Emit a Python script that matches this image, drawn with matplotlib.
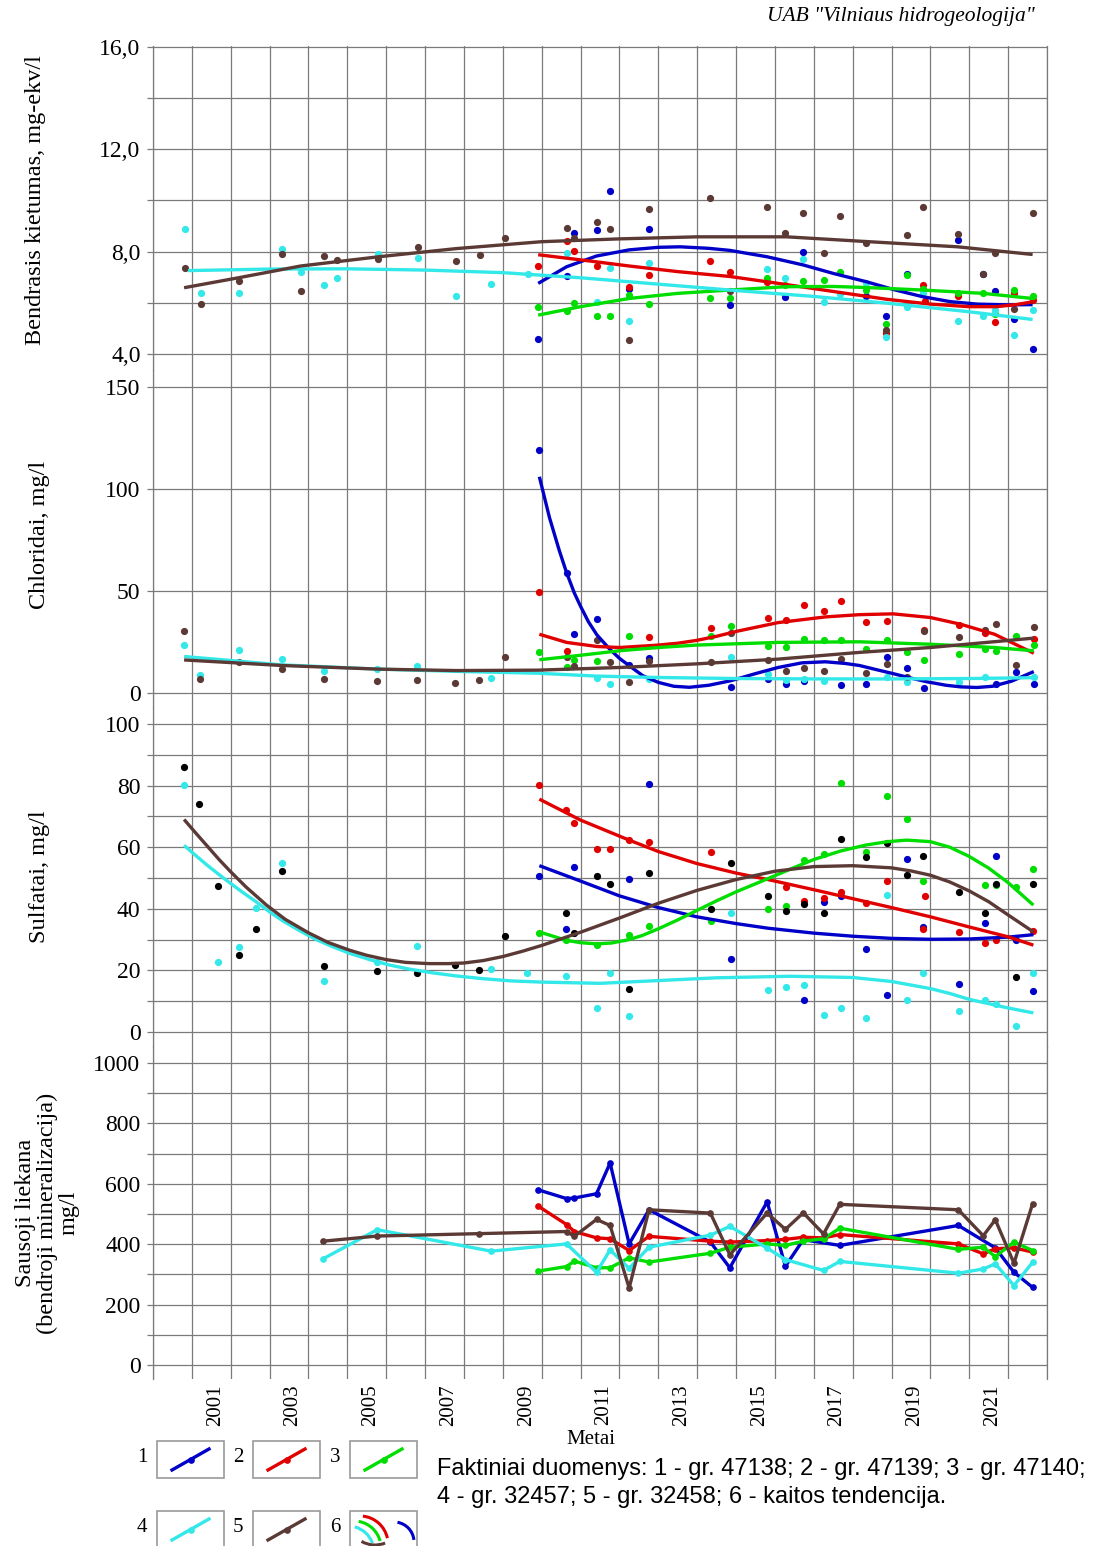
import numpy as np
import matplotlib.pyplot as plt
from matplotlib.patches import Arc, Rectangle

# ---- data (x = decimal year) ----
# Bendrasis kietumas, mg-ekv/l
hard_x_1 = [2009.91, 2010.64, 2010.84, 2011.41, 2011.76, 2012.25, 2012.76, 2014.84, 2016.27, 2016.73, 2018.34,
            2018.87, 2019.39, 2020.72, 2021.36, 2021.67, 2022.15, 2022.63]
hard_y_1 = [4.60, 7.05, 8.73, 8.85, 10.38, 6.53, 8.87, 5.93, 6.24, 7.99, 6.28, 5.48, 7.13, 8.46, 7.13, 6.47, 5.35, 4.21]
hard_x_2 = [2009.91, 2010.64, 2010.84, 2011.41, 2012.25, 2012.76, 2014.34, 2014.84, 2015.80, 2018.87, 2019.80,
            2019.85, 2020.72, 2021.67, 2022.15, 2022.63]
hard_y_2 = [7.45, 8.43, 8.04, 7.45, 6.63, 7.09, 7.63, 7.22, 6.80, 4.83, 6.68, 6.08, 6.27, 5.25, 6.37, 6.10]
hard_x_3 = [2009.91, 2010.64, 2010.84, 2011.41, 2011.76, 2012.25, 2012.76, 2014.34, 2014.84, 2015.80, 2016.27,
            2016.73, 2017.25, 2017.67, 2018.34, 2018.87, 2019.39, 2019.80, 2020.72, 2021.36, 2021.67, 2022.15, 2022.63]
hard_y_3 = [5.85, 5.69, 5.98, 5.50, 5.50, 6.30, 5.95, 6.20, 6.20, 6.98, 6.70, 6.84, 6.89, 7.20, 6.50, 5.17, 7.08,
            6.53, 6.39, 6.37, 5.56, 6.50, 6.27]
hard_x_4 = [2000.82, 2001.23, 2002.20, 2003.32, 2003.80, 2004.40, 2004.74, 2005.79, 2006.81, 2007.80, 2008.70,
            2009.65, 2010.64, 2011.41, 2011.76, 2012.25, 2012.76, 2015.80, 2016.27, 2016.73, 2017.25, 2017.67,
            2018.34, 2018.87, 2019.39, 2019.80, 2020.72, 2021.36, 2021.67, 2022.15, 2022.63]
hard_y_4 = [8.87, 6.37, 6.37, 8.12, 7.20, 6.70, 6.97, 7.91, 7.74, 6.27, 6.72, 7.14, 7.93, 6.04, 7.37, 5.29, 7.54,
            7.33, 6.98, 7.70, 6.02, 6.34, 6.79, 4.65, 5.82, 6.37, 5.29, 5.50, 5.72, 4.73, 5.72]
hard_x_5 = [2000.82, 2001.23, 2002.20, 2003.32, 2003.80, 2004.40, 2004.74, 2005.79, 2006.81, 2007.80, 2008.40,
            2009.06, 2010.64, 2010.84, 2011.41, 2011.76, 2012.25, 2012.76, 2014.34, 2014.84, 2015.80, 2016.27,
            2016.73, 2017.25, 2017.67, 2018.34, 2018.87, 2019.39, 2019.80, 2020.72, 2021.36, 2021.67, 2022.15, 2022.63]
hard_y_5 = [7.35, 5.95, 6.86, 7.91, 6.45, 7.83, 7.69, 7.71, 8.18, 7.63, 7.87, 8.55, 8.94, 8.52, 9.16, 8.87, 4.55,
            9.65, 10.08, 6.47, 9.73, 8.72, 9.52, 7.96, 9.39, 8.33, 4.95, 8.64, 9.73, 8.69, 7.13, 7.96, 5.75, 9.52]

hard_tx_1 = [2009.91, 2010.64, 2011.41, 2012.25, 2013.0, 2013.56, 2014.3, 2014.84, 2015.8, 2016.73, 2017.5, 2018.34,
             2019.1, 2019.8, 2020.5, 2021.2, 2022.0, 2022.63]
hard_ty_1 = [6.76, 7.41, 7.83, 8.07, 8.17, 8.19, 8.13, 8.05, 7.80, 7.48, 7.15, 6.83, 6.50, 6.24, 6.05, 5.95, 5.92, 5.93]
hard_tx_2 = [2009.91, 2011.0, 2012.25, 2013.5, 2014.84, 2016.0, 2017.25, 2018.87, 2020.0, 2021.0, 2021.7, 2022.2, 2022.63]
hard_ty_2 = [7.88, 7.68, 7.44, 7.22, 7.03, 6.78, 6.50, 6.14, 5.95, 5.85, 5.85, 5.93, 6.04]
hard_tx_3 = [2009.91, 2011.0, 2012.25, 2013.5, 2014.84, 2016.27, 2017.5, 2018.34, 2019.8, 2021.36, 2022.63]
hard_ty_3 = [5.52, 5.85, 6.17, 6.37, 6.50, 6.63, 6.64, 6.60, 6.50, 6.37, 6.17]
hard_tx_4 = [2000.9, 2003.0, 2005.0, 2007.0, 2009.0, 2011.0, 2013.0, 2015.0, 2017.0, 2019.0, 2021.0, 2022.63]
hard_ty_4 = [7.26, 7.32, 7.33, 7.28, 7.18, 6.98, 6.73, 6.48, 6.25, 5.97, 5.65, 5.35]
hard_tx_5 = [2000.8, 2002.2, 2003.8, 2005.8, 2007.8, 2010.0, 2012.0, 2014.0, 2016.3, 2018.3, 2020.7, 2022.63]
hard_ty_5 = [6.59, 6.98, 7.44, 7.80, 8.12, 8.39, 8.50, 8.58, 8.58, 8.40, 8.19, 7.89]

# Chloridai, mg/l
chl_x_1 = [2009.94, 2010.64, 2010.84, 2011.42, 2012.25, 2012.77, 2014.86, 2015.82, 2016.28, 2016.74, 2017.69,
           2018.34, 2018.89, 2019.39, 2019.83, 2021.70, 2022.20, 2022.66]
chl_y_1 = [119.2, 58.6, 28.8, 36.5, 13.7, 17.1, 3.1, 6.8, 4.4, 5.7, 4.1, 4.2, 17.8, 12.2, 2.3, 4.4, 10.4, 4.4]
chl_x_2 = [2009.94, 2010.64, 2012.77, 2014.36, 2015.82, 2016.28, 2016.74, 2017.26, 2017.69, 2018.34, 2018.89,
           2019.83, 2020.74, 2021.41, 2022.66]
chl_y_2 = [49.5, 20.7, 27.5, 31.8, 37.0, 35.8, 43.2, 40.2, 45.1, 34.9, 35.5, 30.8, 33.4, 29.6, 26.4]
chl_x_3 = [2009.94, 2010.64, 2010.84, 2011.42, 2012.25, 2014.36, 2014.86, 2015.82, 2016.28, 2016.74, 2017.26,
           2017.69, 2018.34, 2018.89, 2019.39, 2019.83, 2020.74, 2021.41, 2021.70, 2022.20, 2022.66]
chl_y_3 = [19.9, 12.9, 16.2, 15.5, 27.7, 28.0, 32.6, 23.1, 22.6, 26.7, 25.9, 26.1, 21.5, 25.9, 19.9, 16.3, 19.1,
           21.5, 20.7, 28.0, 23.5]
chl_x_4 = [2000.80, 2001.21, 2002.20, 2003.31, 2004.40, 2005.77, 2006.78, 2008.70, 2011.42, 2011.75, 2012.77,
           2014.86, 2015.82, 2016.28, 2016.74, 2017.26, 2018.89, 2019.39, 2020.74, 2021.41, 2022.66]
chl_y_4 = [23.5, 8.9, 21.1, 16.7, 10.6, 11.7, 13.0, 7.3, 7.5, 4.4, 6.8, 17.8, 9.3, 6.5, 7.0, 5.7, 8.0, 5.2, 5.2,
           8.0, 8.0]
chl_x_5 = [2000.80, 2001.21, 2002.20, 2003.31, 2004.40, 2005.77, 2006.78, 2007.78, 2008.39, 2009.05, 2010.64,
           2010.84, 2011.42, 2011.75, 2012.25, 2012.77, 2014.36, 2014.86, 2015.82, 2016.28, 2016.74, 2017.26,
           2017.69, 2018.34, 2018.89, 2019.39, 2019.83, 2020.74, 2021.41, 2021.70, 2022.20, 2022.66]
chl_y_5 = [30.5, 7.0, 15.1, 12.0, 6.8, 6.0, 6.2, 4.9, 6.5, 17.7, 17.8, 13.2, 26.1, 15.0, 5.5, 15.5, 15.0, 29.6,
           16.1, 10.9, 12.2, 10.6, 16.6, 9.8, 14.2, 8.0, 30.5, 27.5, 30.8, 33.7, 13.8, 32.4]

chl_tx_1 = [2009.94, 2010.2, 2010.45, 2010.64, 2010.84, 2011.0, 2011.2, 2011.42, 2011.75, 2012.0, 2012.25, 2012.6,
            2013.0, 2013.4, 2013.8, 2014.3, 2014.86, 2015.5, 2016.08, 2016.7, 2017.3, 2017.8, 2018.17, 2018.6,
            2019.04, 2019.5, 2019.91, 2020.4, 2020.78, 2021.2, 2021.6, 2022.09, 2022.66]
chl_ty_1 = [106, 86, 70, 59, 49, 42.5, 35, 28.5, 21.5, 17, 13.4, 8.5, 5.2, 3.3, 2.8, 3.8, 6.0, 9.5, 12.5, 14.8,
            15.3, 14.5, 13.5, 11.5, 9.5, 7.3, 5.5, 3.8, 3.0, 2.7, 3.3, 5.8, 10.5]
chl_tx_2 = [2009.94, 2010.64, 2011.42, 2012.0, 2012.94, 2013.5, 2013.99, 2014.5, 2015.03, 2016.08, 2017.3, 2018.17,
            2019.04, 2020.0, 2020.78, 2021.65, 2022.66]
chl_ty_2 = [28.8, 24.8, 22.8, 22.3, 23.4, 24.4, 25.8, 27.8, 30.3, 34.5, 37.3, 38.4, 38.8, 37.0, 33.7, 28.8, 19.5]
chl_tx_3 = [2009.94, 2011.0, 2012.0, 2013.0, 2013.99, 2016.08, 2018.17, 2020.0, 2021.65, 2022.66]
chl_ty_3 = [16.3, 18.5, 20.7, 22.3, 23.5, 24.8, 25.1, 23.9, 22.3, 20.7]
chl_tx_4 = [2000.8, 2003.3, 2005.8, 2007.8, 2009.9, 2011.4, 2013.0, 2015.0, 2017.0, 2019.0, 2021.0, 2022.66]
chl_ty_4 = [17.9, 13.8, 11.7, 10.6, 9.7, 8.3, 7.6, 7.1, 6.9, 6.9, 7.1, 7.5]
chl_tx_5 = [2000.8, 2003.3, 2005.8, 2007.8, 2009.9, 2012.0, 2014.0, 2016.08, 2018.17, 2020.0, 2022.66]
chl_ty_5 = [16.2, 13.5, 11.7, 11.0, 11.2, 12.5, 14.3, 16.6, 19.9, 22.3, 26.9]

# Sulfatai, mg/l
sul_x_1 = [2009.94, 2010.62, 2010.84, 2012.25, 2012.77, 2014.86, 2016.74, 2017.25, 2017.69, 2018.34, 2018.89,
           2019.39, 2019.80, 2020.74, 2021.41, 2021.69, 2022.19, 2022.65]
sul_y_1 = [50.6, 33.6, 53.6, 49.8, 80.5, 23.6, 10.5, 42.3, 44.1, 27.1, 11.9, 56.2, 34.1, 15.5, 35.5, 57.1, 29.8, 13.2]
sul_x_2 = [2009.94, 2010.62, 2010.84, 2011.42, 2011.75, 2012.25, 2012.77, 2014.35, 2016.28, 2016.74, 2017.25,
           2017.69, 2018.34, 2018.89, 2019.80, 2019.85, 2020.74, 2021.41, 2021.69, 2022.65]
sul_y_2 = [80.3, 72.0, 68.0, 59.4, 59.4, 62.3, 61.8, 58.4, 47.1, 42.6, 43.6, 45.5, 42.0, 49.0, 33.6, 44.3, 32.5,
           28.9, 30.0, 32.8]
sul_x_3 = [2009.94, 2010.62, 2011.42, 2012.25, 2012.77, 2014.35, 2015.82, 2016.28, 2016.74, 2017.25, 2017.69,
           2018.34, 2018.89, 2019.39, 2019.80, 2021.41, 2021.69, 2022.19, 2022.65]
sul_y_3 = [32.0, 29.8, 28.4, 31.6, 34.5, 35.9, 39.8, 41.0, 55.8, 57.7, 80.7, 58.5, 76.6, 69.0, 49.1, 47.8, 47.7,
           47.1, 52.9]
sul_x_4 = [2000.80, 2001.66, 2002.20, 2002.64, 2003.31, 2004.40, 2005.77, 2006.78, 2008.70, 2009.61, 2010.62,
           2011.42, 2011.75, 2012.25, 2014.86, 2015.82, 2016.28, 2016.74, 2017.25, 2017.69, 2018.34, 2018.89,
           2019.39, 2019.80, 2020.74, 2021.41, 2021.69, 2022.19, 2022.65]
sul_y_4 = [80.1, 22.8, 27.6, 40.4, 54.9, 16.6, 22.8, 28.0, 20.3, 19.3, 18.3, 7.9, 19.0, 5.2, 38.5, 13.5, 14.6, 15.4,
           5.6, 7.9, 4.4, 44.4, 10.5, 19.0, 6.8, 10.3, 9.2, 1.8, 19.0]
sul_x_5 = [2000.80, 2001.19, 2001.66, 2002.20, 2002.64, 2003.31, 2004.40, 2005.77, 2006.78, 2007.78, 2008.39,
           2009.05, 2010.62, 2010.84, 2011.42, 2011.75, 2012.25, 2012.77, 2014.35, 2014.86, 2015.82, 2016.28,
           2016.74, 2017.25, 2017.69, 2018.34, 2018.89, 2019.39, 2019.80, 2020.74, 2021.41, 2021.69, 2022.19, 2022.65]
sul_y_5 = [86.1, 73.9, 47.5, 25.1, 33.4, 52.4, 21.5, 19.8, 19.1, 21.7, 20.0, 31.2, 38.7, 32.3, 50.8, 48.2, 14.1,
           51.5, 39.8, 54.9, 44.3, 39.3, 41.7, 38.7, 62.8, 56.9, 61.3, 51.0, 57.2, 45.3, 38.5, 48.2, 17.9, 48.2]

sul_tx_1 = [2009.94, 2011.0, 2012.0, 2013.0, 2013.99, 2015.0, 2015.82, 2017.0, 2018.0, 2019.0, 2020.0, 2021.0,
            2022.0, 2022.65]
sul_ty_1 = [54.0, 49.0, 44.2, 40.4, 37.4, 35.2, 33.7, 32.1, 31.1, 30.4, 30.1, 30.2, 30.8, 31.6]
sul_tx_2 = [2009.94, 2011.0, 2012.25, 2013.0, 2013.99, 2015.0, 2015.82, 2017.0, 2018.0, 2019.0, 2020.0, 2021.0,
            2022.0, 2022.65]
sul_ty_2 = [75.6, 68.8, 62.3, 58.6, 54.7, 51.6, 49.5, 46.2, 43.3, 40.4, 37.4, 34.1, 30.9, 28.2]
sul_tx_3 = [2009.94, 2010.62, 2011.0, 2011.42, 2011.8, 2012.25, 2012.6, 2013.0, 2013.5, 2014.0, 2014.5, 2015.0,
            2015.82, 2016.4, 2017.0, 2017.7, 2018.34, 2018.9, 2019.39, 2020.0, 2020.5, 2021.0, 2021.5, 2022.0, 2022.65]
sul_ty_3 = [32.5, 29.8, 29.0, 28.6, 28.9, 30.0, 31.4, 33.5, 36.4, 39.5, 42.6, 45.5, 49.8, 52.9, 56.0, 58.8, 60.7,
            61.8, 62.3, 61.8, 60.0, 57.0, 53.2, 48.5, 41.2]
sul_tx_4 = [2000.8, 2001.1, 2001.4, 2001.7, 2002.0, 2002.3, 2002.64, 2003.0, 2003.35, 2003.8, 2004.2, 2004.6, 2005.07,
            2005.6, 2006.1, 2006.6, 2007.2, 2007.8, 2008.5, 2009.2, 2010.0, 2011.5, 2013.0, 2014.5, 2016.4, 2018.0,
            2019.0, 2020.0, 2020.5, 2021.0, 2021.5, 2022.0, 2022.65]
sul_ty_4 = [60.6, 57.3, 54.1, 51.1, 48.2, 45.4, 42.4, 39.0, 36.0, 32.7, 30.0, 27.8, 25.5, 23.4, 21.7, 20.4, 19.2,
            18.2, 17.3, 16.6, 16.2, 15.8, 16.7, 17.6, 18.1, 17.7, 16.4, 14.1, 12.5, 10.6, 9.2, 7.8, 6.2]
sul_tx_5 = [2000.8, 2001.1, 2001.4, 2001.7, 2002.0, 2002.4, 2002.92, 2003.4, 2004.0, 2004.5, 2005.07, 2005.5, 2006.0,
            2006.5, 2007.1, 2007.6, 2008.0, 2008.5, 2009.0, 2009.5, 2010.0, 2011.0, 2012.0, 2013.0, 2014.0, 2015.0,
            2016.0, 2017.0, 2018.0, 2019.0, 2019.5, 2020.0, 2020.5, 2021.0, 2021.5, 2022.0, 2022.65]
sul_ty_5 = [69.0, 64.6, 60.3, 56.0, 52.0, 47.0, 41.2, 36.6, 32.2, 29.1, 26.5, 24.9, 23.5, 22.6, 22.2, 22.2, 22.4,
            23.2, 24.5, 26.2, 28.1, 32.4, 37.0, 41.8, 46.0, 49.5, 52.2, 53.7, 54.0, 53.3, 52.3, 50.9, 48.7, 45.8,
            42.3, 38.0, 32.5]

# Sausoji liekana, mg/l
dry_x_1 = [2009.91, 2010.64, 2010.84, 2011.41, 2011.76, 2012.25, 2012.76, 2014.34, 2014.84, 2015.80, 2016.27,
           2016.73, 2017.67, 2020.72, 2021.67, 2022.15, 2022.63]
dry_y_1 = [580, 551, 553, 567, 669, 401, 514, 407, 322, 540, 327, 415, 396, 462, 388, 307, 257]
dry_x_2 = [2009.91, 2010.64, 2010.84, 2011.41, 2011.76, 2012.25, 2012.76, 2014.34, 2014.84, 2015.80, 2016.27,
           2016.73, 2017.25, 2017.67, 2020.72, 2021.36, 2021.67, 2022.15, 2022.63]
dry_y_2 = [526, 465, 442, 421, 418, 379, 426, 410, 407, 412, 416, 423, 421, 432, 401, 368, 385, 388, 374]
dry_x_3 = [2009.91, 2010.64, 2010.84, 2011.41, 2011.76, 2012.25, 2012.76, 2014.34, 2014.84, 2015.80, 2016.27,
           2016.73, 2017.25, 2017.67, 2020.72, 2021.36, 2021.67, 2022.15, 2022.63]
dry_y_3 = [311, 326, 344, 322, 322, 355, 341, 370, 390, 401, 396, 410, 418, 453, 383, 390, 359, 407, 379]
dry_x_4 = [2004.38, 2005.77, 2008.70, 2010.64, 2011.41, 2011.76, 2012.25, 2012.76, 2014.34, 2014.84, 2015.80,
           2016.27, 2017.25, 2017.67, 2020.72, 2021.36, 2021.67, 2022.15, 2022.63]
dry_y_4 = [352, 448, 377, 401, 307, 381, 320, 390, 430, 459, 387, 349, 313, 343, 304, 318, 335, 263, 340]
dry_x_5 = [2004.38, 2005.77, 2008.39, 2010.64, 2010.84, 2011.41, 2011.76, 2012.25, 2012.76, 2014.34, 2014.84,
           2015.80, 2016.27, 2016.73, 2017.25, 2017.67, 2020.72, 2021.36, 2021.67, 2022.15, 2022.63]
dry_y_5 = [410, 427, 435, 442, 426, 482, 462, 255, 514, 503, 365, 503, 449, 504, 434, 532, 514, 428, 481, 337, 534]

year_labels = ["2001", "2003", "2005", "2007", "2009", "2011", "2013", "2015", "2017", "2019", "2021"]
legend_text = ("Faktiniai duomenys: 1 - gr. 47138; 2 - gr. 47139; 3 - gr. 47140;\n"
               "4 - gr. 32457; 5 - gr. 32458; 6 - kaitos tendencija.")

BLUE, RED, GREEN, CYAN, BROWN = "#0000C8", "#E00000", "#00DD00", "#33E8E8", "#5B3A36"
colors = [BLUE, RED, GREEN, CYAN, BROWN]
GRID = "#7a7a7a"
SERIF = "Liberation Serif"
SANS = "Liberation Sans"

W, H = 1103, 1546
fig = plt.figure(figsize=(W / 100, H / 100), dpi=100)
X0, X1 = 153, 1047


def panel(top, bot, v_hi, p_hi, v_lo, p_lo, major, minor, fmt):
    scale = (v_hi - v_lo) / (p_lo - p_hi)
    ylim = (v_lo - (bot - p_lo) * scale, v_hi + (p_hi - top) * scale)
    ax = fig.add_axes([X0 / W, 1 - bot / H, (X1 - X0) / W, (bot - top) / H])
    ax.set_xlim(2000, 2023)
    ax.set_ylim(*ylim)
    ax.set_xticks(range(2000, 2024))
    ax.set_yticks(major)
    ax.set_yticks(minor, minor=True)
    ax.set_yticklabels([fmt(v) for v in major], fontsize=17, family=SERIF)
    ax.tick_params(axis="y", which="both", length=4, color=GRID, width=0.9, pad=5)
    ax.tick_params(axis="x", which="both", length=0, labelbottom=False)
    ax.grid(axis="y", which="both", color=GRID, lw=0.9)
    ax.grid(axis="x", which="major", color=GRID, lw=0.9)
    for s in ("top", "bottom"):
        ax.spines[s].set_visible(False)
    for s in ("left", "right"):
        ax.spines[s].set_color(GRID)
        ax.spines[s].set_linewidth(0.9)
    ax.set_axisbelow(True)
    return ax


def scatter_trend(ax, xs, ys, txs, tys, dot_colors):
    for x, y, c in zip(xs, ys, dot_colors):
        ax.plot(x, y, "o", ms=5.2, color=c, mec="none", zorder=3)
    for tx, ty, c in zip(txs, tys, colors):
        ax.plot(tx, ty, "-", lw=2.4, color=c, zorder=4, solid_capstyle="butt", solid_joinstyle="round")


ax1 = panel(46, 370, 16, 47, 4, 354, [4, 8, 12, 16], [6, 10, 14], lambda v: f"{v:.1f}".replace(".", ","))
scatter_trend(ax1, [hard_x_1, hard_x_2, hard_x_3, hard_x_4, hard_x_5],
              [hard_y_1, hard_y_2, hard_y_3, hard_y_4, hard_y_5],
              [hard_tx_1, hard_tx_2, hard_tx_3, hard_tx_4, hard_tx_5],
              [hard_ty_1, hard_ty_2, hard_ty_3, hard_ty_4, hard_ty_5], colors)

ax2 = panel(370, 708, 150, 387, 0, 693, [0, 50, 100, 150], [], lambda v: f"{v:d}")
scatter_trend(ax2, [chl_x_1, chl_x_2, chl_x_3, chl_x_4, chl_x_5],
              [chl_y_1, chl_y_2, chl_y_3, chl_y_4, chl_y_5],
              [chl_tx_1, chl_tx_2, chl_tx_3, chl_tx_4, chl_tx_5],
              [chl_ty_1, chl_ty_2, chl_ty_3, chl_ty_4, chl_ty_5], colors)

ax3 = panel(708, 1047, 100, 724, 0, 1032, list(range(0, 101, 20)), list(range(10, 100, 20)), lambda v: f"{v:d}")
scatter_trend(ax3, [sul_x_1, sul_x_2, sul_x_3, sul_x_4, sul_x_5],
              [sul_y_1, sul_y_2, sul_y_3, sul_y_4, sul_y_5],
              [sul_tx_1, sul_tx_2, sul_tx_3, sul_tx_4, sul_tx_5],
              [sul_ty_1, sul_ty_2, sul_ty_3, sul_ty_4, sul_ty_5],
              [BLUE, RED, GREEN, CYAN, "#000000"])

ax4 = panel(1047, 1379, 1000, 1063, 0, 1365, list(range(0, 1001, 200)), list(range(100, 1000, 200)),
            lambda v: f"{v:d}")
for x, y, c in zip([dry_x_1, dry_x_2, dry_x_3, dry_x_4, dry_x_5],
                   [dry_y_1, dry_y_2, dry_y_3, dry_y_4, dry_y_5], colors):
    ax4.plot(x, y, "-o", lw=2.4, ms=3.8, color=c, zorder=3)
ax4.set_xticks([int(t) + 0.6 for t in year_labels], minor=True)
ax4.set_xticklabels(year_labels, minor=True, rotation=90, fontsize=15, family=SERIF)
ax4.tick_params(axis="x", which="minor", labelbottom=True, pad=4)

# axis titles
fig.text(36 / W, 1 - 200 / H, "Bendrasis kietumas, mg-ekv/l", rotation=90, ha="center", va="center",
         fontsize=17.5, family=SERIF)
fig.text(40 / W, 1 - 535 / H, "Chloridai, mg/l", rotation=90, ha="center", va="center", fontsize=17.5, family=SERIF)
fig.text(40 / W, 1 - 877 / H, "Sulfatai, mg/l", rotation=90, ha="center", va="center", fontsize=17.5, family=SERIF)
fig.text(47 / W, 1 - 1213 / H, "Sausoji liekana\n(bendroji mineralizacija)\nmg/l", rotation=90, ha="center",
         va="center", fontsize=17.5, family=SERIF, linespacing=1.05, multialignment="center")
fig.text(591 / W, 1 - 1430 / H, "Metai", ha="center", va="top", fontsize=15, family=SERIF)
fig.text(1035 / W, 1 - 17 / H, 'UAB "Vilniaus hidrogeologija"', ha="right", va="center", fontsize=15.5,
         family=SERIF, style="italic")

# legend boxes
boxes = [(157, 1441, "1"), (253, 1441, "2"), (350, 1441, "3"),
         (157, 1511, "4"), (253, 1511, "5"), (350, 1511, "6")]
for i, (bx, by, num) in enumerate(boxes):
    lax = fig.add_axes([bx / W, 1 - (by + 37) / H, 67 / W, 37 / H])
    lax.set_xlim(0, 67)
    lax.set_ylim(0, 37)
    lax.axis("off")
    lax.add_patch(Rectangle((0, 0), 1, 1, fill=False, ec="#9a9a9a", lw=1.2, transform=lax.transAxes, clip_on=False))
    fig.text((bx - 15) / W, 1 - (by + 17) / H, num, ha="center", va="center", fontsize=15, family=SERIF)
    if i < 5:
        lax.plot([15, 52], [8, 29], "-", lw=2.4, color=colors[i])
        lax.plot([33.5], [18.5], "o", ms=3.8, color=colors[i])
    else:
        # trend-line icon: nested arcs bowing up-right, a brown arc below, a blue one on the right
        for (cx, cy, r, t1, t2, c) in [(10, 4, 28, 12, 84, RED), (4, 0, 27, 15, 80, GREEN),
                                       (-2, -4, 26, 20, 75, CYAN), (25, 30, 27, 240, 292, BROWN),
                                       (44, 6, 20, 6, 80, BLUE)]:
            lax.add_patch(Arc((cx, cy), 2 * r, 2 * r, theta1=t1, theta2=t2, color=c, lw=2.2))

fig.text(437 / W, 1 - 1483 / H, legend_text, ha="left", va="center", fontsize=17, family=SANS, linespacing=1.3)

fig.savefig("out.png", dpi=100)
